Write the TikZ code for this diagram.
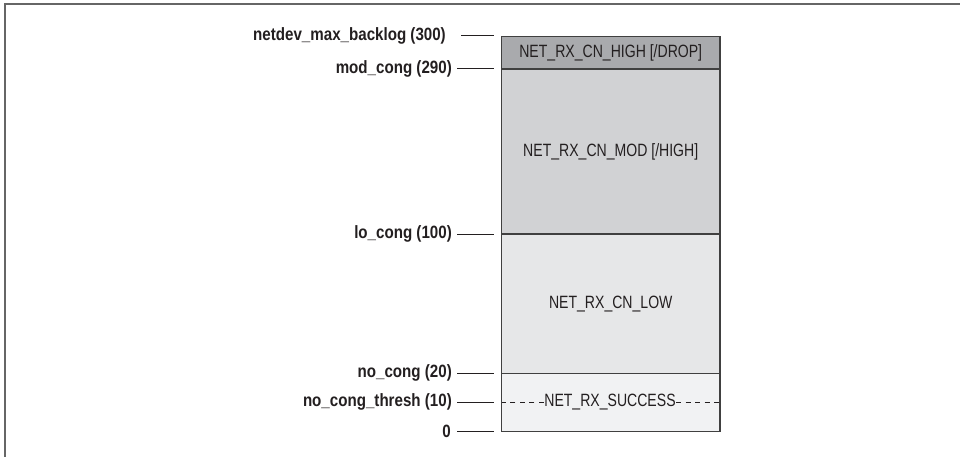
\documentclass[tikz,border=0pt]{standalone}
\usepackage{fontspec}
\setmainfont{Liberation Sans}[FakeStretch=0.79]
\newfontfamily\lblfont{Liberation Sans}[FakeStretch=0.85]
\definecolor{cHigh}{HTML}{A9AAAD}
\definecolor{cMod}{HTML}{D1D2D4}
\definecolor{cLow}{HTML}{E6E7E8}
\definecolor{cSucc}{HTML}{F1F2F3}
\definecolor{frameC}{HTML}{666666}
\definecolor{edgeC}{HTML}{404040}
\definecolor{inkC}{HTML}{231F20}
\begin{document}
\begin{tikzpicture}[x=1pt,y=-1pt,
  band/.style={draw=edgeC, line width=1.3pt, inner sep=0pt, outer sep=0pt,
    minimum width=218.5pt, font=\fontsize{17.8}{19}\selectfont, text=inkC},
  lbl/.style={anchor=east, inner sep=0pt, font=\lblfont\bfseries\fontsize{17.8}{19}\selectfont, text=inkC},
  tick/.style={draw=inkC, line width=1pt},
  dsh/.style={draw=inkC, line width=0.9pt, dash pattern=on 5pt off 4.5pt}]
\useasboundingbox (0,0) rectangle (960,457);
% frame (only left and top edges visible)
\draw[frameC, line width=2pt] (5,457) -- (5,4.5) -- (960,4.5);
% bands
\node[band, fill=cHigh, minimum height=32.3pt] (high) at (610.75,52.85) {NET\_RX\_CN\_HIGH [/DROP]};
\node[band, fill=cMod, minimum height=165pt] (mod) at (610.75,151.5) {NET\_RX\_CN\_MOD [/HIGH]};
\node[band, fill=cLow, minimum height=139.3pt] (low) at (610.75,303.65) {NET\_RX\_CN\_LOW};
\node[band, fill=cSucc, minimum height=58.4pt] (succ) at (610.75,402.5) {};
\node[inner xsep=0.3pt, inner ysep=1pt, font=\fontsize{17.8}{19}\selectfont, text=inkC] (succtxt) at (610,402) {NET\_RX\_SUCCESS};
\draw[dsh] (succtxt.west) -- (succ.west |- succtxt);
\draw[dsh] (succtxt.east) -- (succ.east |- succtxt);
% labels
\node[lbl] (lMax) at (446,35.7) {netdev\_max\_backlog (300)};
\node[lbl] (lMod) at (452,69) {mod\_cong (290)};
\node[lbl] (lLo) at (452,234) {lo\_cong (100)};
\node[lbl] (lNo) at (452,373.3) {no\_cong (20)};
\node[lbl] (lThr) at (452,402) {no\_cong\_thresh (10)};
\node[lbl] (lZero) at (451,431.7) {0};
% tick ends
\coordinate (eMax) at (494,35.7);
\coordinate (eMod) at (494,69);
\coordinate (eLo) at (494,234);
\coordinate (eNo) at (494,373.3);
\coordinate (eThr) at (494,402);
\coordinate (eZero) at (494,431.7);
\draw[tick] (lMax.east) ++(15,0) -- (eMax);
\draw[tick] (lMod.east) ++(5,0) -- (eMod);
\draw[tick] (lLo.east) ++(5,0) -- (eLo);
\draw[tick] (lNo.east) ++(5,0) -- (eNo);
\draw[tick] (lThr.east) ++(5,0) -- (eThr);
\draw[tick] (lZero.east) ++(6,0) -- (eZero);
\end{tikzpicture}
\end{document}
